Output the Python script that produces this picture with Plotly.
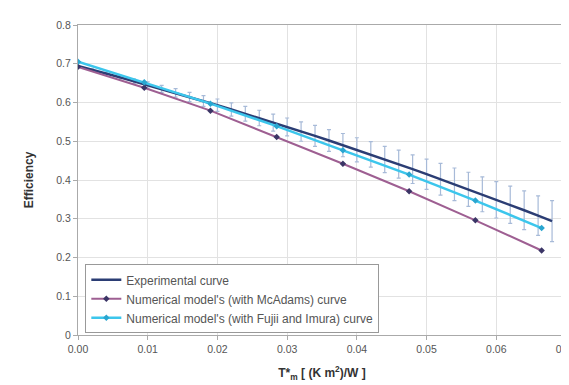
import plotly.graph_objects as go

# Experimental curve (with error bars)
exp_x = [0.000, 0.002, 0.004, 0.006, 0.008, 0.010, 0.012, 0.014, 0.016, 0.018,
         0.020, 0.022, 0.024, 0.026, 0.028, 0.030, 0.032, 0.034, 0.036, 0.038,
         0.040, 0.042, 0.044, 0.046, 0.048, 0.050, 0.052, 0.054, 0.056, 0.058,
         0.060, 0.062, 0.064, 0.066, 0.068]
exp_y = [0.694, 0.685, 0.675, 0.665, 0.655, 0.645, 0.635, 0.625, 0.614, 0.604,
         0.593, 0.582, 0.571, 0.560, 0.548, 0.537, 0.525, 0.514, 0.502, 0.490,
         0.478, 0.466, 0.453, 0.441, 0.428, 0.415, 0.402, 0.389, 0.376, 0.363,
         0.349, 0.336, 0.322, 0.308, 0.294]
exp_err = [0.000, 0.002, 0.003, 0.005, 0.006, 0.008, 0.009, 0.011, 0.012, 0.014,
           0.016, 0.017, 0.019, 0.020, 0.022, 0.023, 0.025, 0.027, 0.028, 0.030,
           0.031, 0.033, 0.034, 0.036, 0.037, 0.039, 0.041, 0.042, 0.044, 0.045,
           0.047, 0.048, 0.050, 0.051, 0.053]

# Numerical models
num_x = [0.0, 0.0095, 0.019, 0.0285, 0.038, 0.0475, 0.057, 0.0665]
mcadams_y = [0.692, 0.638, 0.579, 0.511, 0.442, 0.371, 0.296, 0.218]
fujii_y = [0.705, 0.652, 0.597, 0.539, 0.477, 0.414, 0.347, 0.276]

x_ticks = [0.0, 0.01, 0.02, 0.03, 0.04, 0.05, 0.06, 0.07]
x_labels = ["0.00", "0.01", "0.02", "0.03", "0.04", "0.05", "0.06", "0.07"]
y_ticks = [0, 0.1, 0.2, 0.3, 0.4, 0.5, 0.6, 0.7, 0.8]
y_labels = ["0", "0.1", "0.2", "0.3", "0.4", "0.5", "0.6", "0.7", "0.8"]

fig = go.Figure()

fig.add_trace(go.Scatter(
    x=exp_x, y=exp_y, mode="lines",
    name="Experimental curve",
    line=dict(color="#2B3D74", width=2.5),
    error_y=dict(type="data", array=exp_err, visible=True,
                 color="#A7BAD8", thickness=1.2, width=2),
))
fig.add_trace(go.Scatter(
    x=num_x, y=mcadams_y, mode="lines+markers",
    name="Numerical model's (with McAdams) curve",
    line=dict(color="#9E5F92", width=2),
    marker=dict(symbol="diamond", size=5, color="#3B3566"),
))
fig.add_trace(go.Scatter(
    x=num_x, y=fujii_y, mode="lines+markers",
    name="Numerical model's (with Fujii and Imura) curve",
    line=dict(color="#3CC6EC", width=2.5),
    marker=dict(symbol="diamond", size=5, color="#2AA6D0"),
))

fig.update_layout(
    width=569, height=385,
    margin=dict(l=70, r=11, t=17, b=58),
    paper_bgcolor="white", plot_bgcolor="white",
    font=dict(family="Liberation Sans, Arial, sans-serif", size=10.5, color="#555555"),
    showlegend=True,
    legend=dict(
        x=0.015, y=0.228, xanchor="left", yanchor="top",
        bgcolor="white", bordercolor="#999999", borderwidth=1,
        font=dict(size=12, color="#555555"),
        traceorder="normal", tracegroupgap=0,
        itemwidth=30,
    ),
    xaxis=dict(
        range=[0, 0.07], tickvals=x_ticks, ticktext=x_labels,
        showgrid=True, gridcolor="#E2E2E2", gridwidth=1,
        showline=True, linecolor="#AAAAAA", linewidth=1, mirror=True,
        ticks="outside", ticklen=4, tickcolor="#AAAAAA",
        zeroline=False, automargin=False,
        title=dict(text="<b>T*<sub>m</sub> [ (K m<sup>2</sup>)/W ]</b>",
                   font=dict(size=12, color="#333333")),
    ),
    yaxis=dict(
        range=[0, 0.8], tickvals=y_ticks, ticktext=y_labels,
        showgrid=True, gridcolor="#E2E2E2", gridwidth=1,
        showline=True, linecolor="#AAAAAA", linewidth=1, mirror=True,
        ticks="outside", ticklen=4, tickcolor="#AAAAAA",
        zeroline=False, automargin=False,
        title=dict(text="<b>Efficiency</b>", font=dict(size=12, color="#333333"),
                   standoff=20),
    ),
)

fig.write_html("out.html")
